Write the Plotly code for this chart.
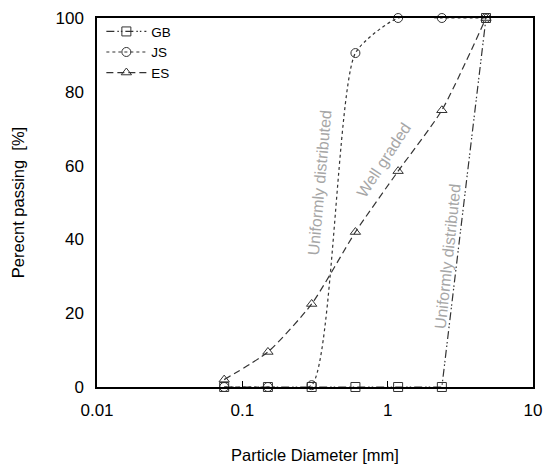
import plotly.graph_objects as go

sizes = [0.075, 0.15, 0.3, 0.6, 1.18, 2.36, 4.75]
gb = [0, 0, 0, 0, 0, 0, 100]
js = [0, 0, 0.5, 90.5, 100, 100, 100]
es = [2, 9.5, 22.5, 42, 58.5, 75, 100]

fig = go.Figure()
series = [
    ("GB", gb, "square-open", "8px,3px,1.5px,2px,1.5px,3px", "linear"),
    ("JS", js, "circle-open", "3px,3px", "spline"),
    ("ES", es, "triangle-up-open", "7px,4px", "spline"),
]
for name, vals, sym, dash, shape in series:
    fig.add_trace(go.Scatter(
        x=sizes, y=vals, name=name, mode="lines+markers",
        line=dict(color="#333", width=1.2, dash=dash, shape=shape, smoothing=0.6),
        marker=dict(symbol=sym, size=9, color="#333", line=dict(width=1)),
        cliponaxis=False,
    ))

gray = dict(color="#a6a6a6", size=16, family="Liberation Sans, Arial")
fig.add_annotation(x=-0.47, y=55.5, xref="x", yref="y", text="Uniformly distributed",
                   showarrow=False, textangle=-85, font=gray)
fig.add_annotation(x=-0.03, y=61.5, xref="x", yref="y", text="Well graded",
                   showarrow=False, textangle=-57, font=gray)
fig.add_annotation(x=0.41, y=35.5, xref="x", yref="y", text="Uniformly distributed",
                   showarrow=False, textangle=-84, font=gray)

fig.update_layout(
    width=550, height=471,
    margin=dict(l=97, r=17, t=18, b=84),
    plot_bgcolor="white", paper_bgcolor="white",
    font=dict(family="Liberation Sans, Arial", size=17, color="black"),
    showlegend=True,
    legend=dict(x=0.01, y=1.005, xanchor="left", yanchor="top",
                bgcolor="rgba(0,0,0,0)", font=dict(size=13.5), itemwidth=40,
                tracegroupgap=0),
)
fig.update_xaxes(
    type="log", range=[-2, 1], showgrid=False, zeroline=False, automargin=False,
    showline=True, linecolor="black", linewidth=1.5, mirror=True,
    ticks="inside", ticklen=6, tickcolor="black", ticklabelstandoff=7,
    tickvals=[0.01, 0.1, 1, 10], ticktext=["0.01", "0.1", "1", "10"],
    title=dict(text="Particle Diameter [mm]", standoff=30, font=dict(size=16.5)),
)
fig.update_yaxes(
    range=[0, 100], showgrid=False, zeroline=False, automargin=False,
    showline=True, linecolor="black", linewidth=1.5, mirror=True,
    ticks="", tickvals=[0, 20, 40, 60, 80, 100], ticklabelstandoff=8,
    title=dict(text="Perecnt passing&nbsp;&nbsp;[%]", standoff=27, font=dict(size=16.5)),
)

fig.write_html("out.html", config={"displayModeBar": False},
               post_script="document.body.style.margin='0';")
